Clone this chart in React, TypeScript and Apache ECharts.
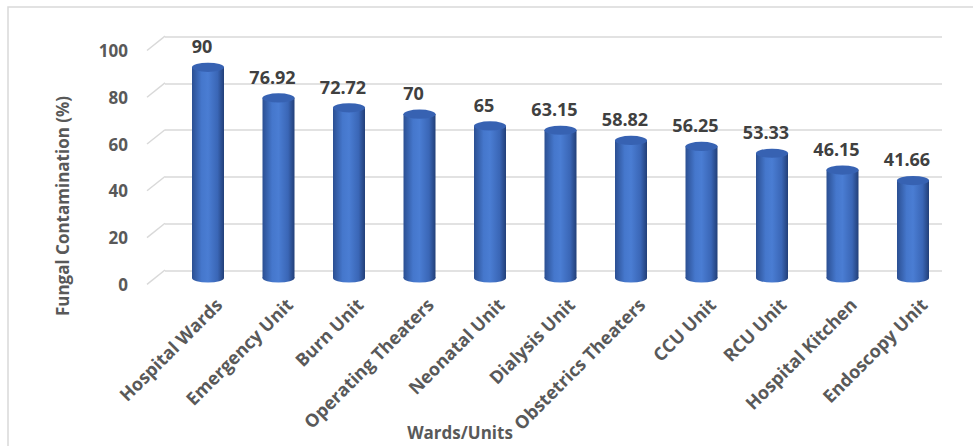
import React, { useEffect, useRef } from "react";
import * as echarts from "echarts";

const categories = [
  "Hospital Wards",
  "Emergency Unit",
  "Burn Unit",
  "Operating Theaters",
  "Neonatal Unit",
  "Dialysis Unit",
  "Obstetrics Theaters",
  "CCU Unit",
  "RCU Unit",
  "Hospital Kitchen",
  "Endoscopy Unit",
];
const values = [90, 76.92, 72.72, 70, 65, 63.15, 58.82, 56.25, 53.33, 46.15, 41.66];
const yTicks = [0, 20, 40, 60, 80, 100];
const yTitle = "Fungal Contamination (%)";
const xTitle = "Wards/Units";

const FONT = "'Open Sans', 'Noto Sans', sans-serif";
const GRID_COLOR = "#d9d9d9";
const LABEL_GRAY = "#595959";
const ELLIPSE = "path://M0 50 A50 50 0 1 1 100 50 A50 50 0 1 1 0 50 Z";

export default function App() {
  const ref = useRef<HTMLDivElement>(null);
  useEffect(() => {
    document.body.style.margin = "0";
    if (!ref.current) return;
    const chart = echarts.init(ref.current, undefined, { renderer: "svg" });
    const bodyGrad = new echarts.graphic.LinearGradient(0, 0, 1, 0, [
      { offset: 0, color: "#2b4f92" },
      { offset: 0.3, color: "#4577cc" },
      { offset: 0.5, color: "#4a7dd3" },
      { offset: 0.8, color: "#3a66b6" },
      { offset: 1, color: "#223f78" },
    ]);
    const option: any = {
      animation: false,
      backgroundColor: "#ffffff",
      textStyle: { fontFamily: FONT },
      grid: [
        { left: 165, top: 36.7, width: 777, height: 233.6 },
        { left: 172.75, top: 43.6, width: 775.5, height: 234.4 },
        { left: 147, top: 50.5, width: 777, height: 233.8 },
        { left: 183.5, top: 50.5, width: 775.5, height: 233.8 },
      ],
      xAxis: [
        { gridIndex: 0, type: "category", data: categories, show: false },
        { gridIndex: 1, type: "category", data: categories, show: false },
        { gridIndex: 2, type: "value", min: 0, max: 1, show: false },
        {
          gridIndex: 3,
          type: "category",
          data: categories,
          axisLine: { show: false },
          axisTick: { show: false },
          axisLabel: {
            interval: 0,
            rotate: 45,
            margin: 17,
            color: LABEL_GRAY,
            fontSize: 18,
            fontWeight: "bold",
            fontFamily: FONT,
          },
        },
      ],
      yAxis: [
        {
          gridIndex: 0,
          type: "value",
          min: 0,
          max: 100,
          interval: 20,
          axisLabel: { show: false },
          axisLine: { show: false },
          axisTick: { show: false },
          splitLine: { show: true, lineStyle: { color: GRID_COLOR, width: 1.5 } },
        },
        { gridIndex: 1, type: "value", min: 0, max: 100, show: false },
        {
          gridIndex: 2,
          type: "value",
          min: 0,
          max: 100,
          interval: 20,
          axisLine: { show: false },
          axisTick: { show: false },
          splitLine: { show: false },
          axisLabel: {
            margin: 19,
            color: LABEL_GRAY,
            fontSize: 17,
            fontWeight: "bold",
            fontFamily: FONT,
          },
        },
        { gridIndex: 3, type: "value", min: 0, max: 100, show: false },
      ],
      series: [
        {
          type: "custom",
          xAxisIndex: 2,
          yAxisIndex: 2,
          data: yTicks.map((t) => [0, t]),
          silent: true,
          renderItem: (params: any, api: any) => {
            const p = api.coord([0, api.value(1)]);
            return {
              type: "line",
              shape: { x1: p[0], y1: p[1], x2: p[0] + 18, y2: p[1] - 14.3 },
              style: { stroke: GRID_COLOR, lineWidth: 1.5 },
            };
          },
        },
        {
          type: "pictorialBar",
          xAxisIndex: 1,
          yAxisIndex: 1,
          data: values,
          symbol: ELLIPSE,
          symbolSize: [32, 9],
          symbolPosition: "start",
          symbolOffset: [0, "50%"],
          itemStyle: { color: bodyGrad },
          z: 2,
        },
        {
          type: "bar",
          xAxisIndex: 1,
          yAxisIndex: 1,
          data: values,
          barWidth: 32,
          itemStyle: { color: bodyGrad },
          label: {
            show: true,
            position: "top",
            distance: 12,
            offset: [-6, 0],
            color: "#404040",
            fontSize: 18,
            fontWeight: "bold",
            fontFamily: FONT,
          },
          z: 3,
        },
        {
          type: "pictorialBar",
          xAxisIndex: 1,
          yAxisIndex: 1,
          data: values,
          symbol: ELLIPSE,
          symbolSize: [32, 9],
          symbolPosition: "end",
          symbolOffset: [0, "-50%"],
          itemStyle: { color: "#3762b2", borderColor: "#5583d4", borderWidth: 1 },
          z: 4,
        },
      ],
      graphic: [
        {
          type: "rect",
          shape: { x: 8, y: 7, width: 1200, height: 800 },
          style: { fill: "none", stroke: GRID_COLOR, lineWidth: 1.5 },
          silent: true,
        },
        {
          type: "text",
          x: 62,
          y: 206,
          rotation: Math.PI / 2,
          style: {
            text: yTitle,
            fill: LABEL_GRAY,
            font: `bold 17px ${FONT}`,
            textAlign: "center",
            textVerticalAlign: "middle",
          },
        },
        {
          type: "text",
          x: 460,
          y: 432,
          style: {
            text: xTitle,
            fill: LABEL_GRAY,
            font: `bold 17px ${FONT}`,
            textAlign: "center",
            textVerticalAlign: "middle",
          },
        },
      ],
    };
    chart.setOption(option);
    return () => chart.dispose();
  }, []);
  return <div ref={ref} style={{ width: 973, height: 446 }} />;
}
